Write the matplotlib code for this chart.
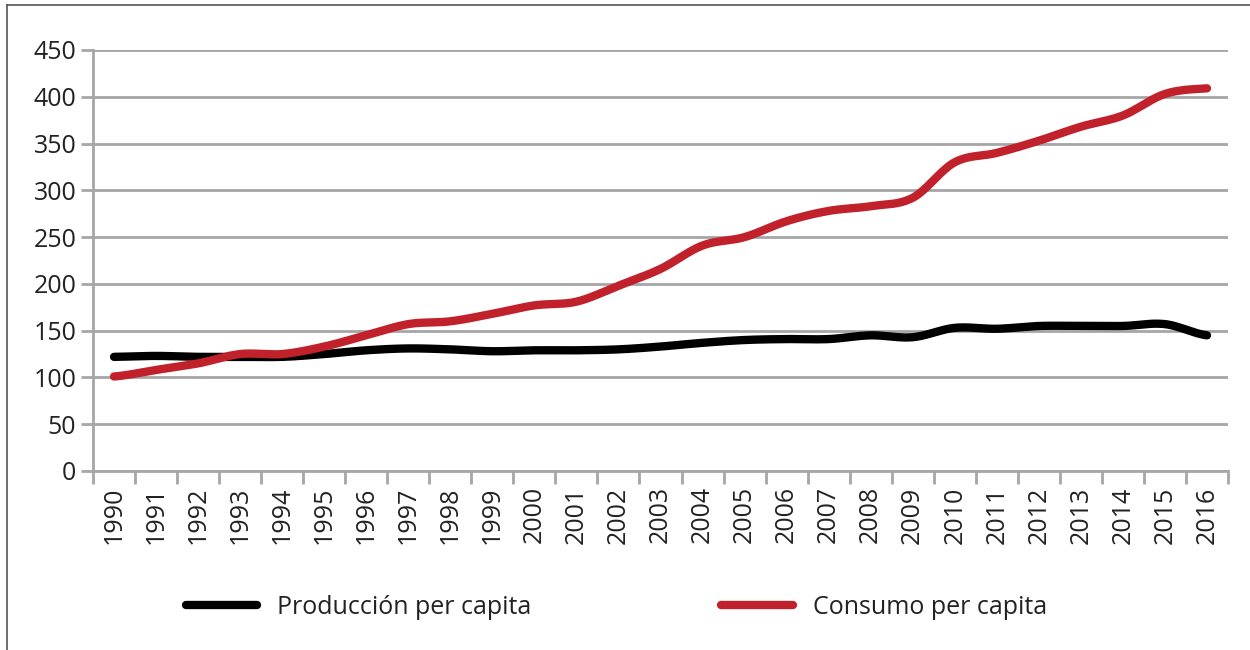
import numpy as np
import matplotlib
matplotlib.use("Agg")
from matplotlib import pyplot as plt
from matplotlib.lines import Line2D

years = list(range(1990, 2017))
produccion = [122, 123, 122, 122, 122, 125, 129, 131, 130, 128, 129, 129, 130, 133,
              137, 140, 141, 141, 145, 143, 153, 152, 155, 155, 155, 157, 145]
consumo = [101, 108, 115, 125, 125, 133, 145, 157, 160, 168, 177, 181, 198, 216,
           241, 250, 267, 278, 283, 292, 330, 340, 353, 368, 380, 403, 409]
labels = ["Producción per capita", "Consumo per capita"]
colors = ["#000000", "#C1212A"]

plt.rcParams['font.family'] = ['Open Sans', 'DejaVu Sans']


def smooth(y, n=20):
    # catmull-rom curve through the points, like excel's smoothed line
    y = np.asarray(y, dtype=float)
    p = np.concatenate(([y[0]], y, [y[-1]]))
    xs, ys = [], []
    for i in range(len(y) - 1):
        p0, p1, p2, p3 = p[i], p[i + 1], p[i + 2], p[i + 3]
        t = np.linspace(0, 1, n, endpoint=False)
        ys.append(0.5 * (2 * p1 + (-p0 + p2) * t + (2 * p0 - 5 * p1 + 4 * p2 - p3) * t**2
                         + (-p0 + 3 * p1 - 3 * p2 + p3) * t**3))
        xs.append(i + t)
    xs.append([len(y) - 1])
    ys.append([y[-1]])
    return np.concatenate(xs), np.concatenate(ys)


fig = plt.figure(figsize=(12.5, 6.5), dpi=100)
ax = fig.add_axes([0.0744, 0.2754, 0.908, 0.6477])

grid_c = "#A6A6A6"
txt_c = "#222222"
for series, c, lab in zip([produccion, consumo], colors, labels):
    sx, sy = smooth(series)
    ax.plot(sx, sy, color=c, lw=6, solid_capstyle='round', label=lab, zorder=3)

ax.set_xlim(-0.5, len(years) - 0.5)
ax.set_ylim(0, 450)
ax.set_yticks(range(0, 451, 50))
ax.set_xticks(range(len(years)))
ax.set_xticklabels([str(y) for y in years], rotation=90, fontsize=18, color=txt_c)
ax.set_xticks(np.arange(-0.5, len(years), 1), minor=True)
ax.tick_params(axis='x', which='major', length=0, pad=11)
ax.tick_params(axis='x', which='minor', length=9, width=2, color=grid_c)
ax.tick_params(axis='y', length=9, width=2, color=grid_c, labelsize=18, labelcolor=txt_c, pad=3)
ax.grid(axis='y', color=grid_c, lw=2)
ax.set_axisbelow(True)
for s in ['top', 'right']:
    ax.spines[s].set_visible(False)
for s in ['left', 'bottom']:
    ax.spines[s].set_color(grid_c)
    ax.spines[s].set_linewidth(2)

handles = [Line2D([], [], color=c, lw=6, solid_capstyle='round') for c in colors]
fig.legend(handles, labels, loc='center', bbox_to_anchor=(0.493, 0.066), ncol=2,
           frameon=False, fontsize=18, handlelength=2.85, handletextpad=0.8,
           columnspacing=7.6, labelcolor=txt_c)

# outer frame (left and top edges)
fig.add_artist(Line2D([0.0058, 0.0058], [0, 0.992], color="#555555", lw=1.2, transform=fig.transFigure))
fig.add_artist(Line2D([0.0058, 1], [0.992, 0.992], color="#555555", lw=1.2, transform=fig.transFigure))

fig.savefig("out.png", dpi=100, facecolor="white")
